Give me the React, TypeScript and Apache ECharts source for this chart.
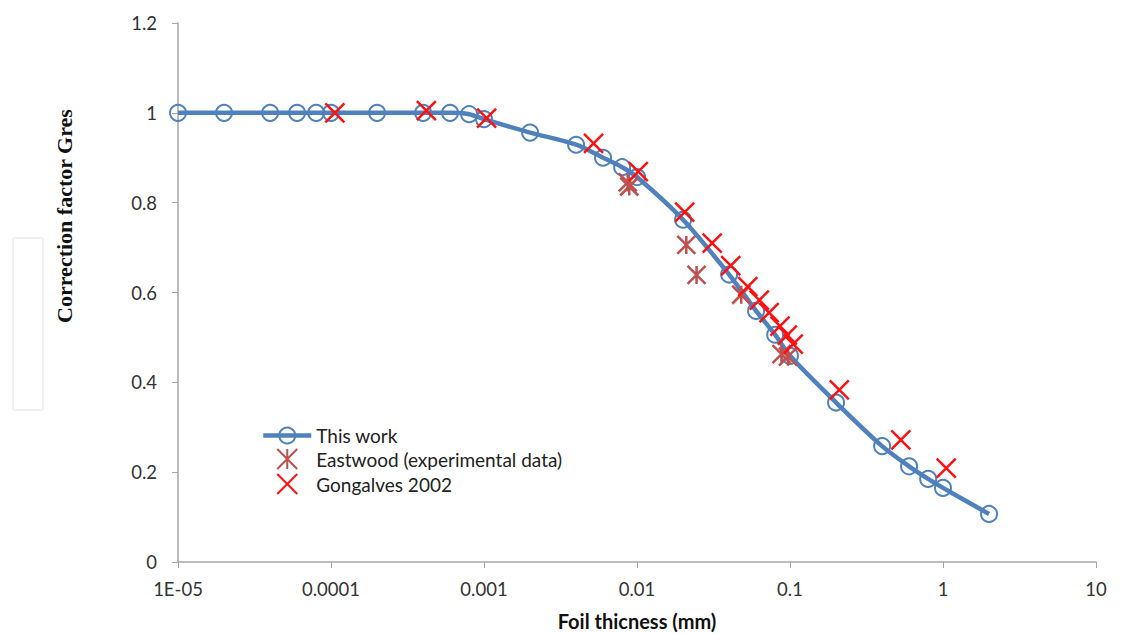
import React, { useEffect, useRef } from "react";
import * as echarts from "echarts";

// This work (model)
const workX = [1e-5, 2e-5, 4e-5, 6e-5, 8e-5, 1e-4, 2e-4, 4e-4, 6e-4, 8e-4, 1e-3, 2e-3, 4e-3, 6e-3, 8e-3, 1e-2, 2e-2, 4e-2, 6e-2, 8e-2, 0.1, 0.2, 0.4, 0.6, 0.8, 1, 2];
const workY = [1, 1, 1, 1, 1, 1, 1, 1, 1, 0.997, 0.986, 0.956, 0.929, 0.9, 0.879, 0.857, 0.762, 0.64, 0.559, 0.506, 0.459, 0.355, 0.258, 0.213, 0.185, 0.165, 0.107];

// Eastwood (experimental data)
const eastX = [0.0087, 0.0089, 0.021, 0.0245, 0.048, 0.088, 0.097];
const eastY = [0.845, 0.836, 0.706, 0.639, 0.595, 0.463, 0.457];

// Gongalves 2002
const gonX = [1.06e-4, 4.2e-4, 1.04e-3, 5.2e-3, 0.0102, 0.0205, 0.031, 0.041, 0.053, 0.063, 0.073, 0.086, 0.096, 0.105, 0.21, 0.53, 1.05];
const gonY = [1.0, 1.005, 0.988, 0.932, 0.869, 0.779, 0.71, 0.66, 0.613, 0.583, 0.555, 0.525, 0.505, 0.485, 0.383, 0.272, 0.209];

const xTickLabels = ["1E-05", "0.0001", "0.001", "0.01", "0.1", "1", "10"];
const seriesNames = ["This work", "Eastwood (experimental data)", "Gongalves 2002"];

const X_PATH = "path://M0,0L10,10M10,0L0,10";
const STAR_PATH = "path://M5,0L5,10M0,0L10,10M10,0L0,10";

export default function App() {
  const ref = useRef<HTMLDivElement>(null);
  useEffect(() => {
    if (!ref.current) return;
    const chart = echarts.init(ref.current, null, { renderer: "svg" });
    const zip = (xs: number[], ys: number[]) => xs.map((x, i) => [x, ys[i]]);
    chart.setOption({
      animation: false,
      backgroundColor: "#ffffff",
      grid: { left: 178, right: 47, top: 23, bottom: 72, containLabel: false, outerBoundsMode: "none" },
      legend: {
        orient: "vertical",
        left: 256,
        top: 421,
        itemWidth: 48,
        itemHeight: 20,
        itemGap: 3,
        lineStyle: { width: 4.5 },
        textStyle: { fontFamily: "Lato", fontSize: 19, color: "#222" },
        data: seriesNames,
      },
      xAxis: {
        type: "log",
        logBase: 10,
        min: 1e-5,
        max: 10,
        splitNumber: 6,
        name: "Foil thicness (mm)",
        nameLocation: "middle",
        nameGap: 49,
        nameTextStyle: { fontFamily: "Lato", fontSize: 20, fontWeight: "bold", color: "#111" },
        axisLine: { lineStyle: { color: "#a6a6a6", width: 1.5 } },
        axisTick: { show: true, length: 6, lineStyle: { color: "#a6a6a6" } },
        axisLabel: {
          margin: 17,
          fontFamily: "Lato",
          fontSize: 18.5,
          color: "#333",
          formatter: (v: number) => xTickLabels[Math.round(Math.log10(v)) + 5] ?? "",
        },
        splitLine: { show: false },
        minorTick: { show: false },
      },
      yAxis: {
        type: "value",
        min: 0,
        max: 1.2,
        interval: 0.2,
        axisLine: { show: true, lineStyle: { color: "#a6a6a6", width: 1.5 } },
        axisTick: { show: true, length: 6, lineStyle: { color: "#a6a6a6" } },
        axisLabel: { margin: 21, fontFamily: "Lato", fontSize: 18.5, color: "#333" },
        splitLine: { show: false },
      },
      graphic: [
        {
          type: "rect",
          shape: { x: 13, y: 238, width: 30, height: 172, r: 3 },
          style: { fill: "none", stroke: "#f0f0f0", lineWidth: 2 },
          silent: true,
        },
        {
          type: "text",
          x: 64,
          y: 216,
          rotation: Math.PI / 2,
          style: {
            text: "Correction factor Gres",
            fontFamily: "Liberation Serif",
            fontWeight: "bold",
            fontSize: 22,
            fill: "#111",
            textAlign: "center",
            textVerticalAlign: "middle",
          },
        },
      ],
      series: [
        {
          name: seriesNames[0],
          type: "line",
          data: zip(workX, workY),
          smooth: 0.3,
          symbol: "circle",
          symbolSize: 16,
          lineStyle: { color: "#4F81BD", width: 4.5 },
          itemStyle: { color: "rgba(255,255,255,0)", borderColor: "#4F81BD", borderWidth: 2 },
          z: 2,
        },
        {
          name: seriesNames[1],
          type: "scatter",
          data: zip(eastX, eastY),
          symbol: STAR_PATH,
          symbolSize: 18,
          itemStyle: { color: "rgba(0,0,0,0)", borderColor: "#C0504D", borderWidth: 2.5, opacity: 1 },
          z: 3,
        },
        {
          name: seriesNames[2],
          type: "scatter",
          data: zip(gonX, gonY),
          symbol: X_PATH,
          symbolSize: 19,
          itemStyle: { color: "rgba(0,0,0,0)", borderColor: "#FF1010", borderWidth: 2.5, opacity: 1 },
          z: 4,
        },
      ],
    });
    return () => chart.dispose();
  }, []);
  return (
    <div
      ref={ref}
      style={{ position: "absolute", left: 0, top: 0, width: 1143, height: 634, background: "#fff" }}
    />
  );
}
